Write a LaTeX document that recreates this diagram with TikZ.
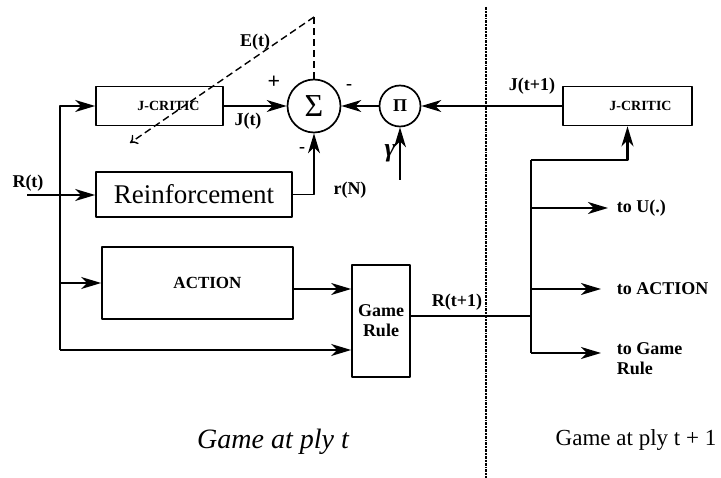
\documentclass[tikz,border=0pt]{standalone}
\usepackage{fontspec}
\setmainfont{Liberation Serif}
\usetikzlibrary{arrows.meta}
\begin{document}
\begin{tikzpicture}[x=1pt, y=-1pt, line width=1.7pt, line join=round,
	>={Stealth[length=20pt,width=12pt,inset=6pt]},
	blk/.style={draw, rectangle, inner sep=0pt},
	op/.style={draw, circle, inner sep=0pt},
	lab/.style={font=\fontsize{18}{20}\selectfont\bfseries, inner sep=1pt},
	small/.style={font=\fontsize{14}{16}\selectfont\bfseries}]
	\useasboundingbox (0,0) rectangle (721,478);
	\def\xbus{60} \def\xtr{531} \def\xsep{486}
	% ply t
	\node[blk, small, minimum width=127pt, minimum height=39pt] (jc) at (159.5,106) {\hspace{18pt}J-CRITIC};
	\node[blk, minimum width=196pt, minimum height=45pt, font=\fontsize{27}{29}\selectfont] (rf) at (194,194.5) {Reinforcement};
	\node[blk, minimum width=191pt, minimum height=72pt, font=\fontsize{17}{19}\selectfont\bfseries] (act) at (197.5,283) {\hspace{20pt}ACTION};
	\node[blk, lab, minimum width=58pt, minimum height=112pt, align=center] (gr) at (381,321) {Game\\Rule};
	\node[op, minimum size=53pt, font=\fontsize{32}{32}\selectfont] (sum) at (314,106) {Σ};
	\node[op, minimum size=41pt, font=\fontsize{18}{18}\selectfont\bfseries] (prod) at (400,106) {Π};
	% ply t+1
	\node[blk, small, minimum width=129pt, minimum height=39pt] (jc2) at (627.5,106) {\hspace{26pt}J-CRITIC};
	\node[lab, anchor=west] (toU) at (615,208) {to U(.)};
	\node[lab, anchor=west] (toA) at (615,289) {to ACTION};
	\node[lab, anchor=north west, align=left] (toG) at (615,341) {to Game\\Rule};
	% coordinates
	\coordinate (rin) at (27,195);
	\coordinate (b0) at (\xbus,350);
	\coordinate (g0) at (400,180);
	\coordinate (etop) at (314,17);
	\coordinate (etip) at (130,143);
	\coordinate (tt) at (\xtr,160);
	\coordinate (tb) at (\xtr,353);
	\coordinate (a1) at ([yshift=-6pt]act.east);
	\coordinate (r1) at ([yshift=5pt]gr.east);
	% connectors
	\draw[->] (rin) -- (rin -| rf.west);
	\draw[->] (b0) |- (jc.west);
	\draw[->] (b0 |- act.west) -- (act.west);
	\draw[->] (b0) -- (b0 -| gr.west);
	\draw[->, line width=1.4pt] (a1) -- (a1 -| gr.west);
	\draw[->, line width=1.4pt] (jc.east) -- (sum.west);
	\draw[->, line width=1.4pt] (rf.east) -| (sum.south);
	\draw[->, line width=1.4pt] (prod.west) -- (sum.east);
	\draw[->, line width=1.4pt] (jc2.west) -- (prod.east);
	\draw[->, line width=1.4pt] (g0) -- (prod.south);
	\draw[dash pattern=on 7pt off 4pt, line width=1.4pt] (sum.north) -- (etop);
	\draw[dash pattern=on 7pt off 4pt, line width=1.4pt, ->, >={To[length=7pt,width=11pt]}] (etop) -- (etip);
	\draw (r1) -- (r1 -| tt);
	\draw (tb) -- (tt);
	\draw[->, line width=2.4pt] (tt) -| (jc2.south);
	\draw[->, shorten >=7pt] (tt |- toU.west) -- (toU.west);
	\draw[->, shorten >=14pt] (tt |- toA.west) -- (toA.west);
	\draw[->, shorten >=14pt] (tb) -- (tb -| toG.west);
	\draw[densely dash dot, line width=1.3pt] (\xsep,7) -- (\xsep,478);
	% labels
	\node[lab] at (28,183) {R(t)};
	\node[lab] at (248,121) {J(t)};
	\node[lab] at (255,42) {E(t)};
	\node[lab] at (350,190) {r(N)};
	\node[lab] at (457,302) {R(t+1)};
	\node[lab] at (532,86) {J(t+1)};
	\node[font=\fontsize{26}{26}\selectfont\bfseries\itshape] at (390,153) {γ};
	\node[font=\fontsize{22}{22}\selectfont\bfseries] at (274,82) {+};
	\node[lab] at (349,87) {-};
	\node[lab] at (302,150) {-};
	\node[font=\fontsize{28}{30}\selectfont\itshape] at (273,442) {Game at ply t};
	\node[font=\fontsize{23}{25}\selectfont] at (636,440) {Game at ply t + 1};
\end{tikzpicture}
\end{document}
